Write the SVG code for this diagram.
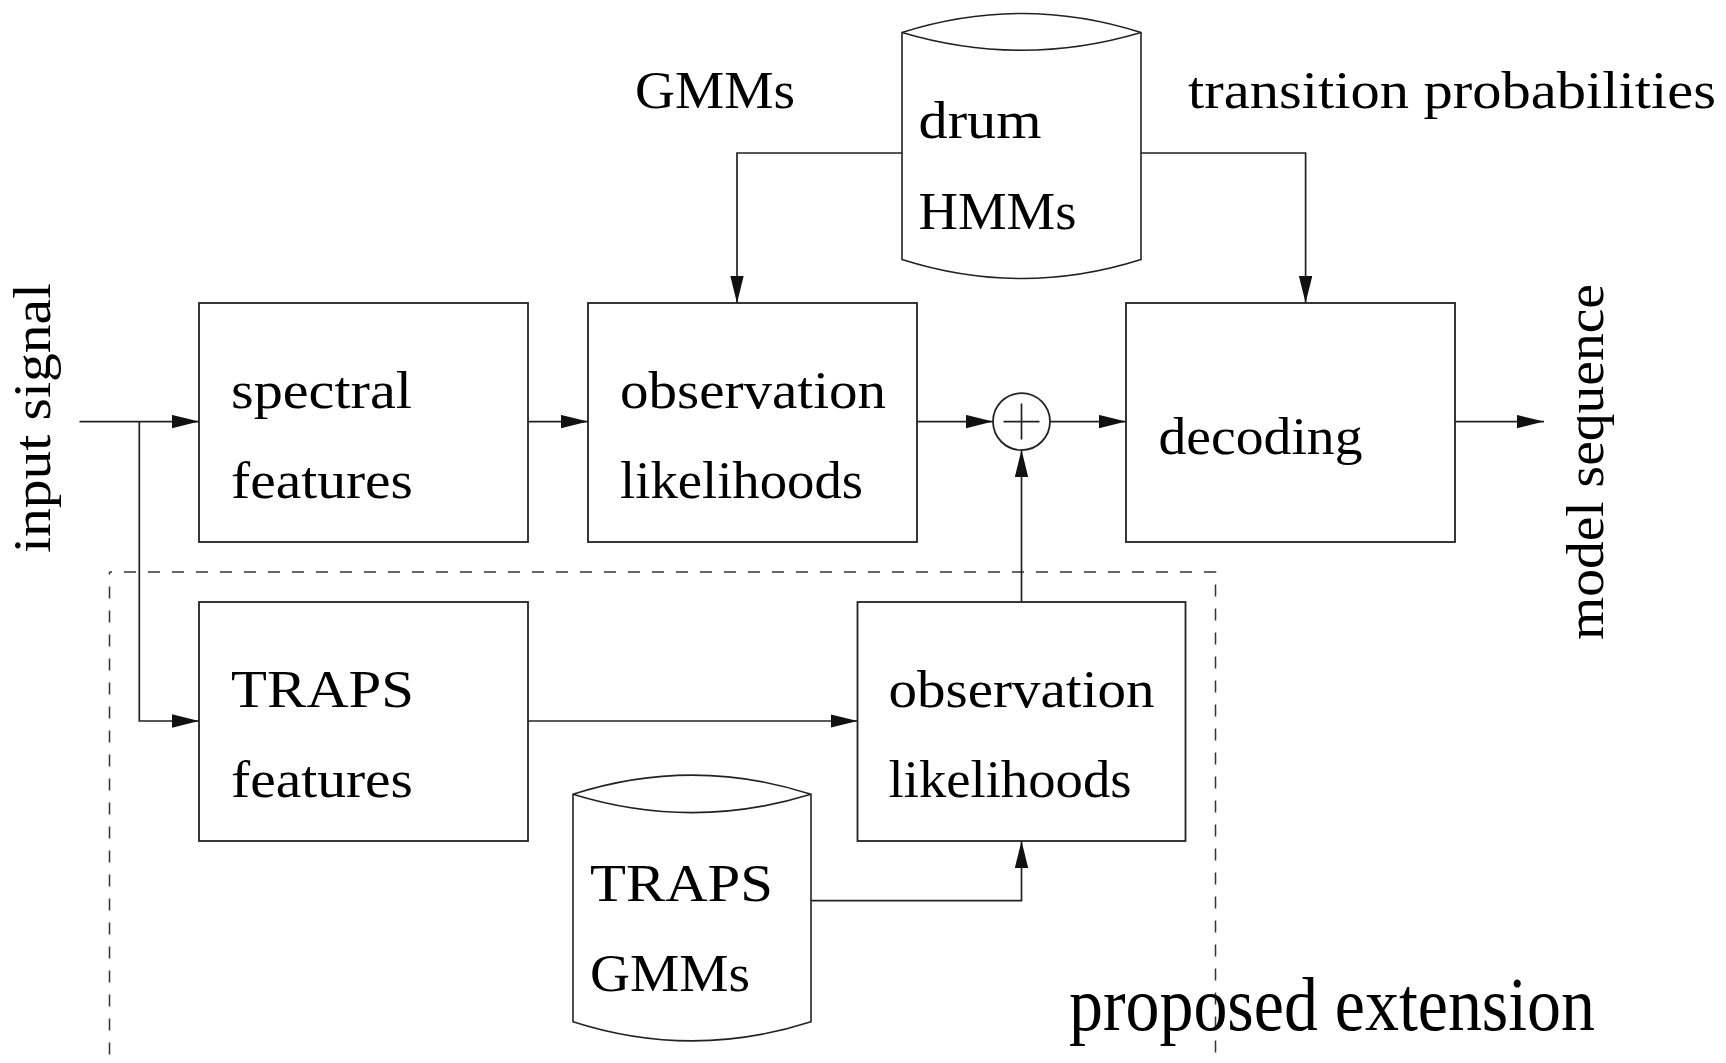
<svg xmlns="http://www.w3.org/2000/svg" width="1726" height="1063" viewBox="0 0 1726 1063">
  <defs>
    <marker id="arrow" markerUnits="userSpaceOnUse" markerWidth="28" markerHeight="14" refX="27" refY="6.7" orient="auto">
      <path d="M0,0 L27,6.7 L0,13.4 z" fill="#111"/>
    </marker>
    <style>
      .box { fill: #fff; stroke: #222; stroke-width: 1.8; }
      .db { fill: #fff; stroke: #222; stroke-width: 1.6; }
      .wire { fill: none; stroke: #222; stroke-width: 1.7; }
      .arr { fill: none; stroke: #222; stroke-width: 1.7; marker-end: url(#arrow); }
      .dash { fill: none; stroke: #333; stroke-width: 1.5; stroke-dasharray: 12 12; stroke-dashoffset: 9.5; }
      text { font-family: "Liberation Serif", "Times New Roman", serif; font-size: 52px; fill: #000; }
      .big { font-size: 76px; }
    </style>
  </defs>

  <rect width="1726" height="1063" fill="#fff"/>

  <!-- dashed frame around the proposed extension -->
  <g id="extension-frame">
    <path class="dash" d="M109.5,572 V1070"/>
    <path class="dash" d="M109.5,572 H1215.5 V1070"/>
    <text class="big" x="1069" y="1030" textLength="526" lengthAdjust="spacingAndGlyphs">proposed extension</text>
  </g>

  <!-- connectors -->
  <g id="connectors">
    <path class="arr" d="M79.5,421.6 H199"/>
    <path class="arr" d="M139.3,421.6 V721 H199"/>
    <path class="arr" d="M528,421.6 H588"/>
    <path class="arr" d="M917,421.6 H993"/>
    <path class="arr" d="M1050,421.6 H1126"/>
    <path class="arr" d="M1455,421.6 H1544"/>
    <path class="arr" d="M902,153 H737 V303"/>
    <path class="arr" d="M1141,153 H1305.6 V303"/>
    <path class="arr" d="M528,721 H857.5"/>
    <path class="arr" d="M1021.5,602 V450"/>
    <path class="arr" d="M811,900.7 H1021.5 V841"/>
  </g>

  <!-- side labels -->
  <g id="input-signal">
    <text transform="translate(50,553) rotate(-90)" textLength="270" lengthAdjust="spacingAndGlyphs">input signal</text>
  </g>
  <g id="model-sequence">
    <text transform="translate(1603,640) rotate(-90)" textLength="356" lengthAdjust="spacingAndGlyphs">model sequence</text>
  </g>
  <g id="label-gmms">
    <text x="635" y="108" textLength="160" lengthAdjust="spacingAndGlyphs">GMMs</text>
  </g>
  <g id="label-transition">
    <text x="1188" y="108" textLength="528" lengthAdjust="spacingAndGlyphs">transition probabilities</text>
  </g>

  <!-- processing blocks -->
  <g id="spectral-features">
    <rect class="box" x="199" y="303" width="329" height="239"/>
    <text x="231" y="407.5" textLength="181" lengthAdjust="spacingAndGlyphs">spectral</text>
    <text x="231" y="497.5" textLength="182" lengthAdjust="spacingAndGlyphs">features</text>
  </g>
  <g id="observation-likelihoods">
    <rect class="box" x="588" y="303" width="329" height="239"/>
    <text x="620" y="407.5" textLength="266" lengthAdjust="spacingAndGlyphs">observation</text>
    <text x="620" y="497.5" textLength="243" lengthAdjust="spacingAndGlyphs">likelihoods</text>
  </g>
  <g id="sum">
    <circle class="box" cx="1021.5" cy="421.6" r="28.5"/>
    <path class="wire" d="M1003.5,421.6 H1039.5 M1021.5,403.6 V439.6"/>
  </g>
  <g id="decoding">
    <rect class="box" x="1126" y="303" width="329" height="239"/>
    <text x="1158.5" y="453.5" textLength="204" lengthAdjust="spacingAndGlyphs">decoding</text>
  </g>
  <g id="traps-features">
    <rect class="box" x="199" y="602" width="329" height="239"/>
    <text x="231" y="706.7" textLength="183" lengthAdjust="spacingAndGlyphs">TRAPS</text>
    <text x="231" y="796.7" textLength="182" lengthAdjust="spacingAndGlyphs">features</text>
  </g>
  <g id="traps-observation-likelihoods">
    <rect class="box" x="857.5" y="602" width="328" height="239"/>
    <text x="888.5" y="706.7" textLength="266" lengthAdjust="spacingAndGlyphs">observation</text>
    <text x="888.5" y="796.7" textLength="243" lengthAdjust="spacingAndGlyphs">likelihoods</text>
  </g>

  <!-- model stores -->
  <g id="drum-hmms">
    <path class="db" d="M902,32.5 Q1021.5,-5.5 1141,32.5 V259.5 Q1021.5,297.5 902,259.5 Z"/>
    <path class="wire" d="M902,32.5 Q1021.5,68 1141,32.5" stroke-width="1.6"/>
    <text x="918.5" y="137.8" textLength="123" lengthAdjust="spacingAndGlyphs">drum</text>
    <text x="918.5" y="228.5" textLength="158" lengthAdjust="spacingAndGlyphs">HMMs</text>
  </g>
  <g id="traps-gmms">
    <path class="db" d="M573,794.3 Q692,756 811,794.3 V1021.7 Q692,1060 573,1021.7 Z"/>
    <path class="wire" d="M573,794.3 Q692,831 811,794.3" stroke-width="1.6"/>
    <text x="590" y="900.7" textLength="183" lengthAdjust="spacingAndGlyphs">TRAPS</text>
    <text x="590" y="990.7" textLength="160" lengthAdjust="spacingAndGlyphs">GMMs</text>
  </g>
</svg>
